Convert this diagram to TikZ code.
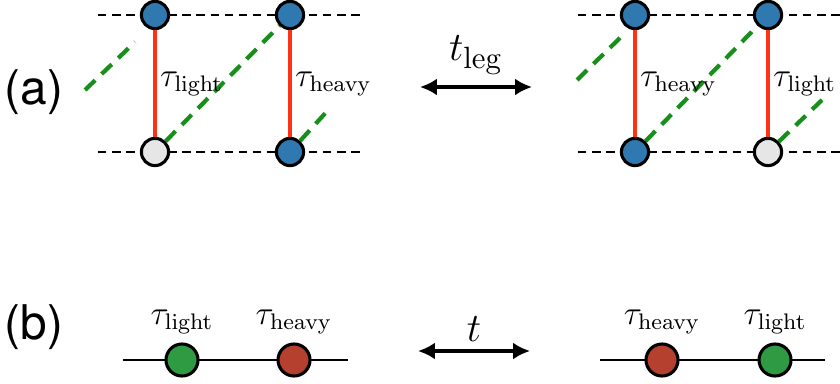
\documentclass[tikz,border=0pt]{standalone}
\usepackage[no-math]{fontspec}
\newfontfamily\panelfont{TeX Gyre Heros}
\usepackage{xcolor}
\usetikzlibrary{arrows.meta,positioning}

\definecolor{siteblue}{HTML}{2F78B0}
\definecolor{sitegray}{HTML}{E6E6E6}
\definecolor{rungred}{HTML}{FF3314}
\definecolor{hopgreen}{HTML}{17901B}
\definecolor{ballgreen}{HTML}{2E9A42}
\definecolor{ballred}{HTML}{B6402E}

\begin{document}
\begin{tikzpicture}[x=0.0125cm,y=-0.0125cm,
  site/.style={circle,draw,line width=1.1pt,minimum size=0.34cm,inner sep=0pt},
  ball/.style={circle,draw,line width=1.1pt,minimum size=0.40cm,inner sep=0pt},
  rail/.style={line width=1pt,dash pattern=on 3pt off 2pt},
  rung/.style={rungred,line width=1.7pt},
  hop/.style={hopgreen,line width=1.5pt,dash pattern=on 5pt off 3.2pt},
  chain/.style={line width=1pt},
  swap/.style={{Latex[length=6pt,width=6pt]}-{Latex[length=6pt,width=6pt]},line width=1.1pt},
  lbl/.style={text=black,font=\fontsize{12}{14}\selectfont,inner sep=1pt},
  panel/.style={font=\panelfont\fontsize{17}{20}\selectfont}
]
\useasboundingbox (0,0) rectangle (840,383);

% (a) ladder before and after the swap
\node[panel] (pa) at (34,92) {(a)};
\coordinate (la1) at (98,15);  \coordinate (la2) at (360,15);
\coordinate (lb1) at (98,152); \coordinate (lb2) at (360,152);
\coordinate (ra1) at (578,15);  \coordinate (ra2) at (850,15);
\coordinate (rb1) at (578,152); \coordinate (rb2) at (850,152);
\draw[rail] (la1) -- (la2);
\draw[rail] (lb1) -- (lb2);
\draw[rail] (ra1) -- (ra2);
\draw[rail] (rb1) -- (rb2);

\node[site,fill=siteblue] (A1) at (155,15) {};
\node[site,fill=siteblue] (A2) at (290,15) {};
\node[site,fill=sitegray] (B1) at (155,152) {};
\node[site,fill=siteblue] (B2) at (290,152) {};
\node[site,fill=siteblue] (C1) at (635,15) {};
\node[site,fill=siteblue] (C2) at (768,15) {};
\node[site,fill=siteblue] (D1) at (635,152) {};
\node[site,fill=sitegray] (D2) at (768,152) {};

\coordinate (h1s) at (85,90);  \coordinate (h1e) at (135,42);
\coordinate (h3e) at (330,108);
\coordinate (h4s) at (577,80); \coordinate (h4e) at (625,33);
\coordinate (h6e) at (822,100);
\draw[hop] (h1s) -- (h1e);
\draw[hop] (B1) -- (A2);
\draw[hop] (B2) -- (h3e);
\draw[hop] (h4s) -- (h4e);
\draw[hop] (D1) -- (C2);
\draw[hop] (D2) -- (h6e);

\draw[rung] (A1) -- node[right,lbl] {$\tau_{\mathrm{light}}$} (B1);
\draw[rung] (A2) -- node[right,lbl] {$\tau_{\mathrm{heavy}}$} (B2);
\draw[rung] (C1) -- node[right,lbl] {$\tau_{\mathrm{heavy}}$} (D1);
\draw[rung] (C2) -- node[right,lbl] {$\tau_{\mathrm{light}}$} (D2);

\coordinate (ta1) at (420,87); \coordinate (ta2) at (532,87);
\draw[swap] (ta1) -- node[above,inner sep=4pt,font=\fontsize{15}{17}\selectfont] {$t_{\mathrm{leg}}$} (ta2);

% (b) chain before and after the swap
\node[panel] (pb) at (34,327) {(b)};
\coordinate (c1) at (123,360); \coordinate (c2) at (348,360);
\coordinate (c3) at (600,360); \coordinate (c4) at (825,360);
\draw[chain] (c1) -- (c2);
\draw[chain] (c3) -- (c4);
\node[ball,fill=ballgreen] (G1) at (182,360) {};
\node[ball,fill=ballred] (R1) at (294,360) {};
\node[ball,fill=ballred] (R2) at (662,360) {};
\node[ball,fill=ballgreen] (G2) at (775,360) {};
\node[lbl,above=2pt of G1] {$\tau_{\mathrm{light}}$};
\node[lbl,above=2pt of R1] {$\tau_{\mathrm{heavy}}$};
\node[lbl,above=2pt of R2] {$\tau_{\mathrm{heavy}}$};
\node[lbl,above=2pt of G2] {$\tau_{\mathrm{light}}$};

\coordinate (tb1) at (418,351); \coordinate (tb2) at (530,351);
\draw[swap] (tb1) -- node[above,inner sep=3pt,font=\fontsize{15}{17}\selectfont] {$t$} (tb2);
\end{tikzpicture}
\end{document}
